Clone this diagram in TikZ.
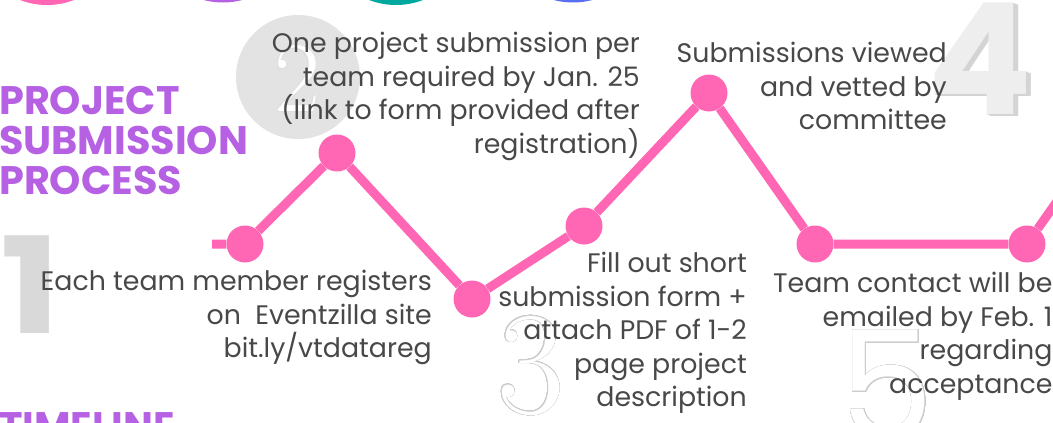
\documentclass[tikz,border=0pt]{standalone}
\usepackage{fontspec}
\usepackage{contour}
\setmainfont{Poppins}
\newfontfamily\serifnum{Latin Modern Roman}
\definecolor{hotpink}{HTML}{FF66B4}
\definecolor{titlepurple}{HTML}{B660E4}
\definecolor{tealtop}{HTML}{00A99D}
\definecolor{bluetop}{HTML}{5A6EF2}
\definecolor{bodygrey}{HTML}{484848}
\definecolor{numgrey}{HTML}{D9D9D9}
\definecolor{circlegrey}{HTML}{E3E3E3}
\definecolor{fourfront}{HTML}{EEEEEE}
\definecolor{fourside}{HTML}{D4D4D4}
\contourlength{0.6pt}
\contournumber{32}
\begin{document}
\begin{tikzpicture}[x=1pt,y=-1pt]
    \tikzset{every node/.style={inner sep=0pt, font=\fontsize{26.8}{33.5}\selectfont, text=bodygrey},
        dot/.style={circle, fill=hotpink, minimum size=37pt},
        stepnote/.style={align=right, anchor=north east},
        heading/.style={align=left, anchor=north west, text=titlepurple, font=\fontsize{39.8}{40}\selectfont\bfseries},
        pinkline/.style={draw=hotpink, line width=9pt}}
    \useasboundingbox (0,0) rectangle (1053,423);
    \clip (0,0) rectangle (1053,423);
    \fill[hotpink] (47,-70) circle (75);
    \fill[titlepurple] (223,-72.5) circle (75);
    \fill[tealtop] (396,-70) circle (75);
    \fill[bluetop] (573,-72.5) circle (75);
    \fill[circlegrey] (298,77) circle (62);
    \node[text=numgrey, xscale=1.2, font=\fontsize{134}{134}\selectfont\bfseries] (num1) at (31,285) {1};
    \node[font=\serifnum\fontsize{100}{100}\selectfont] (num2) at (297,79) {\contour{gray!25}{\color{white}2}};
    \node[font=\serifnum\fontsize{147}{147}\selectfont] (num3) at (531,366) {\contour{gray!40}{\color{white}3}};
    \foreach \k in {6,...,1}
        \node[text=fourside, font=\fontsize{155}{155}\selectfont\bfseries] (num4s\k) at (980+\k*0.8,59+\k*0.3) {4};
    \node[text=fourfront, font=\fontsize{155}{155}\selectfont\bfseries] (num4) at (980,59) {4};
    \node[font=\fontsize{150}{150}\selectfont] (num5) at (887,385) {\contour{gray!40}{\color{white}5}};
    \node[heading] (title) at (-1,86) {PROJECT\\SUBMISSION\\PROCESS};
    \node[heading] (timeline) at (-1,412) {TIMELINE};
    \coordinate (lstart) at (212,244);
    \coordinate (lend) at (1066,188.6);
    \node[dot] (d1) at (245,244) {};
    \node[dot] (d2) at (337,153) {};
    \node[dot] (d3) at (472,299) {};
    \node[dot] (d4) at (584,226) {};
    \node[dot] (d5) at (709,93) {};
    \node[dot] (d6) at (815,244) {};
    \node[dot] (d7) at (1027,244) {};
    \draw[pinkline] (lstart) -- (d1) -- (d2) -- (d3) -- (d4) -- (d5) -- (d6) -- (d7) -- (lend);
    \node[stepnote] (note1) at (432,270) {Each team member registers\\on\ \ Eventzilla site\\bit.ly/vtdatareg};
    \node[stepnote] (note2) at (640,32) {One project submission per\\team required by Jan. 25\\(link to form provided after\\registration)};
    \node[stepnote] (note3) at (747,252) {Fill out short\\submission form +\\attach PDF of 1-2\\page project\\description};
    \node[stepnote] (note4) at (947,42) {Submissions viewed\\and vetted by\\committee};
    \node[stepnote, anchor=north west] (note5) at (773,272) {Team contact will be\\emailed by Feb. 1\\regarding\\acceptance};
\end{tikzpicture}
\end{document}
